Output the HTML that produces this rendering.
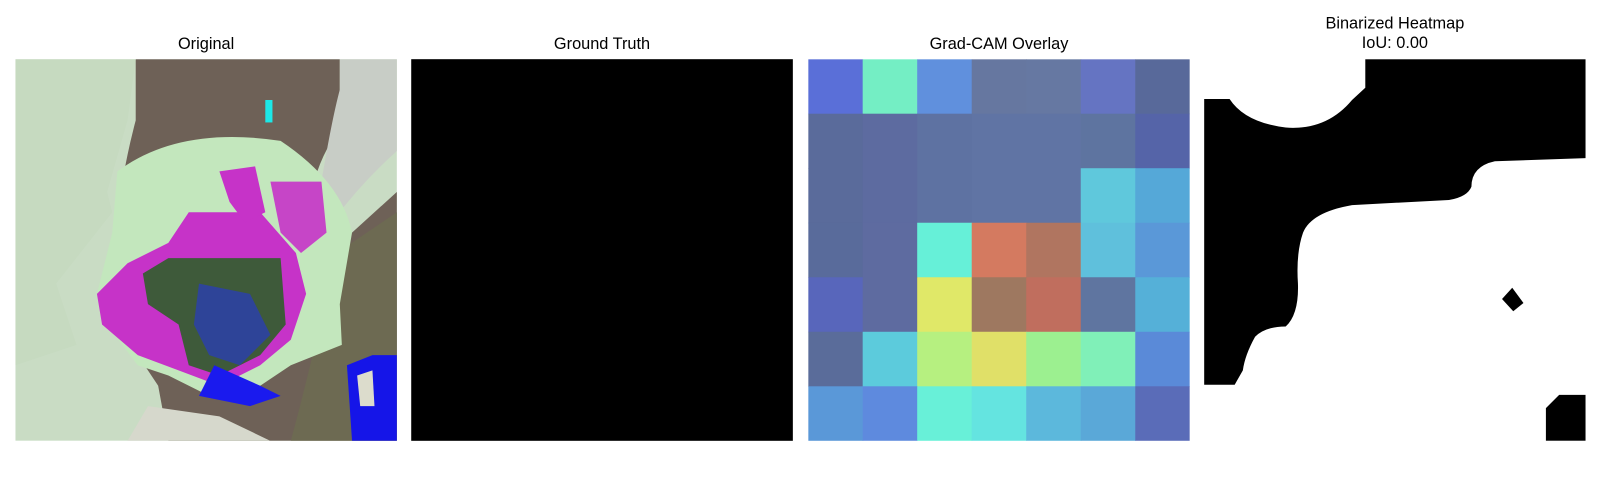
<!DOCTYPE html>
<html><head><meta charset="utf-8"><style>
body{margin:0;background:#fff;width:1600px;height:500px;overflow:hidden;font-family:"Liberation Sans","DejaVu Sans",sans-serif}
#wrap{position:absolute;left:0;top:0;width:1568px;height:490px;transform:scale(1.0204);transform-origin:0 0}
.t{position:absolute;font-size:16px;color:#000;text-align:center;width:374px;line-height:19px}
.p{position:absolute;top:58px;width:374px;height:374px;overflow:hidden}
</style></head><body>
<div id="wrap">
<div class="t" style="left:15px;top:34px">Original</div>
<div class="t" style="left:403px;top:34px">Ground Truth</div>
<div class="t" style="left:792px;top:34px">Grad-CAM Overlay</div>
<div class="t" style="left:1180px;top:14px">Binarized Heatmap<br>IoU: 0.00</div>

<div class="p" style="left:15px">
<svg width="374" height="374" viewBox="0 0 374 374">
<rect width="374" height="374" fill="#c9dcc4"/>
<path d="M118 0 L318 0 L318 70 Q300 90 290 130 L280 180 L300 200 L330 170 L374 130 L374 374 L150 374 L140 320 L120 290 L150 230 L110 160 L105 120 Q110 90 118 60 Z" fill="#6e6157"/>
<path d="M318 0 L374 0 L374 90 Q340 120 310 160 L300 120 Q310 60 318 30Z" fill="#c8cdc6"/>
<path d="M300 200 L374 150 L374 374 L270 374 Q290 300 300 250Z" fill="#6d6a52"/>
<path d="M0 0 L118 0 L110 60 L90 130 L95 150 L40 220 L60 280 L0 300Z" fill="#c6dac0"/>
<path d="M100 110 Q160 65 260 80 Q320 120 330 170 L318 240 L320 280 L270 300 L240 320 L190 330 L150 310 L120 300 L90 260 L80 230 L95 170 Z" fill="#c3e7bd"/>
<path d="M170 150 L240 150 L275 190 L285 230 L270 275 L240 300 L200 320 L160 305 L120 290 L85 260 L80 230 L110 200 L150 180Z" fill="#c633c8"/>
<path d="M150 195 L260 195 L265 260 L240 290 L200 310 L170 300 L160 260 L130 240 L125 210Z" fill="#3e5a3a"/>
<path d="M180 220 L230 230 L250 270 L220 300 L190 290 L175 260Z" fill="#2b3fb0" opacity="0.8"/>
<path d="M200 110 L235 105 L245 150 L225 160 L210 140Z" fill="#c633c8"/>
<path d="M250 120 L300 120 L305 170 L280 190 L260 170Z" fill="#c633c8" opacity="0.9"/>
<path d="M195 300 L240 320 L260 330 L230 340 L180 330Z" fill="#1a1aee"/>
<path d="M130 340 L200 350 L250 374 L110 374Z" fill="#d6d8cc"/>
<path d="M325 300 L350 290 L374 290 L374 374 L330 374Z" fill="#1515e8"/>
<path d="M335 310 L350 305 L352 340 L338 340Z" fill="#dcdccc"/>
<rect x="245" y="40" width="7" height="22" fill="#1ce8e8"/>
</svg></div>

<div class="p" style="left:403px;background:#000"></div>

<div class="p" style="left:792px"><svg id="cam" width="374" height="374"></svg></div>

<div class="p" style="left:1180px;background:#fff">
<svg width="374" height="374" viewBox="0 0 374 374">
<path d="M0 39 L25 39 Q40 62 80 67 Q120 70 145 40 L158 28 L158 0 L374 0 L374 97 L285 100 Q262 105 262 125 Q258 135 240 138 L145 143 Q105 150 97 170 Q90 190 92 220 Q93 250 80 262 Q60 262 50 272 Q40 290 38 305 L30 319 L0 319 Z" fill="#000"/>
<path d="M292 235 L302 224 L313 239 L303 247 Z" fill="#000"/>
<path d="M335 374 L335 342 L348 329 L374 329 L374 374 Z" fill="#000"/>
</svg></div>
</div>

<script>
const camRows = 7;
const camCols = 7;
const camColors = [
["#5a6fd8","#74eec4","#6090dd","#6677a0","#6678a2","#6574c2","#58699a"],
["#5a6b9b","#5d6ba0","#5e72a2","#6074a4","#6074a4","#5e74a0","#5564a8"],
["#5a6b9b","#5d6ba0","#5e72a2","#6074a4","#6074a4","#5fc8dc","#55a8d8"],
["#596b9b","#5e6ba0","#66f0d8","#d47a60","#b07560","#5fc0dc","#5a98d8"],
["#5866bb","#5e6ba0","#e0e868","#9e7860","#c06e5e","#5f75a0","#55b0d8"],
["#5a6c9a","#5ccbdc","#b6f080","#e0e068","#9cf090","#80f0b8","#5a8ad8"],
["#5a98d8","#5e8ade","#68f0d8","#64e4e0","#5cb8dc","#5aa8d8","#5a6cb8"]
];
const svg = document.getElementById('cam');
const cw = 374 / camCols, ch = 374 / camRows;
camColors.forEach((row, r) => row.forEach((c, k) => {
  const el = document.createElementNS('http://www.w3.org/2000/svg', 'rect');
  el.setAttribute('x', k * cw); el.setAttribute('y', r * ch);
  el.setAttribute('width', cw + 0.5); el.setAttribute('height', ch + 0.5);
  el.setAttribute('fill', c);
  
  
  svg.appendChild(el);
}));
</script>
</body></html>
